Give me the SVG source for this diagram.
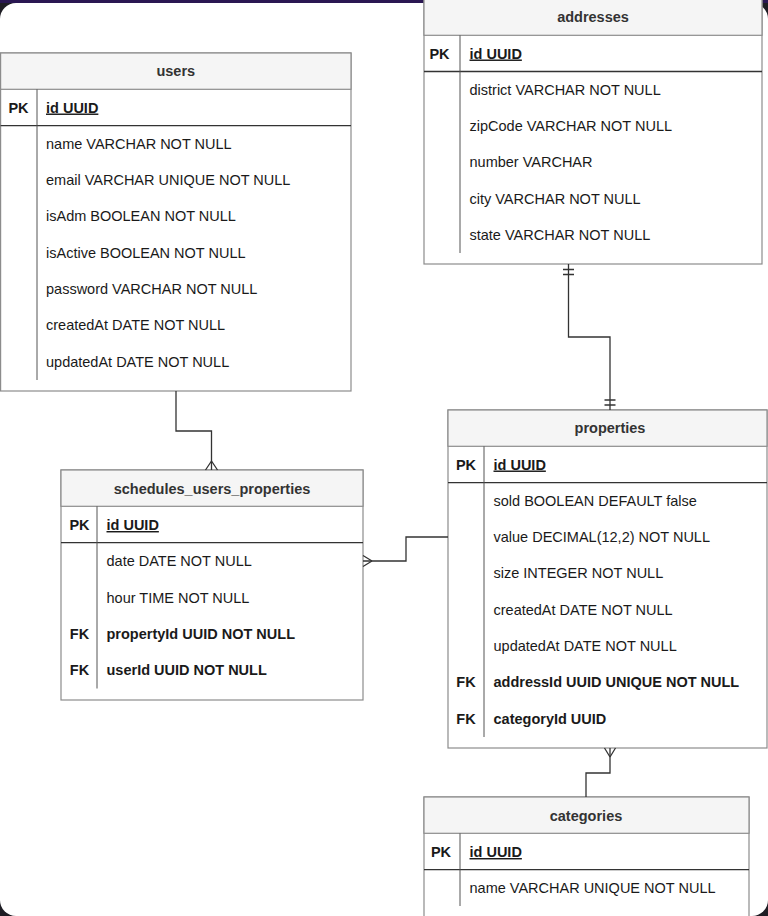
<svg xmlns="http://www.w3.org/2000/svg" width="768" height="916" viewBox="0 0 768 916">
<style>
.box{fill:#ffffff;stroke:#8c8c8c;stroke-width:1.2}
.hdr{fill:#f5f5f5;stroke:#8c8c8c;stroke-width:1.2}
.sep{stroke:#333333;stroke-width:1.4}
.div{stroke:#555555;stroke-width:1}
.t{font-family:"Liberation Sans",Arial,sans-serif;font-size:14.5px;fill:#1a1a1a}
.h{font-family:"Liberation Sans",Arial,sans-serif;font-size:14.5px;font-weight:bold;fill:#333333}
.b{font-weight:bold}
.u{font-weight:bold;text-decoration:underline}
.k{font-weight:bold;text-anchor:middle}
.c{fill:none;stroke:#333333;stroke-width:1.3}
</style>
<rect x="0" y="0" width="768" height="916" fill="#1e1d24"/>
<rect x="0" y="0" width="768" height="3" fill="#2a1752"/>
<rect x="0" y="3" width="768" height="913" rx="16" ry="16" fill="#ffffff"/>

<g id="users">
<rect class="box" x="0.6" y="53" width="350.4" height="338"/>
<rect class="hdr" x="0.6" y="53" width="350.4" height="36.3"/>
<line class="sep" x1="0.6" y1="125.6" x2="351" y2="125.6"/>
<line class="div" x1="37" y1="89.3" x2="37" y2="125.6"/>
<line class="div" x1="37" y1="125.6" x2="37" y2="380"/>
<text class="h" x="175.8" y="76" text-anchor="middle">users</text>
<text class="t k" x="18.5" y="112.5">PK</text>
<text class="t u" x="46" y="112.5">id UUID</text>
<text class="t" x="46" y="148.8">name VARCHAR NOT NULL</text>
<text class="t" x="46" y="185.1">email VARCHAR UNIQUE NOT NULL</text>
<text class="t" x="46" y="221.4">isAdm BOOLEAN NOT NULL</text>
<text class="t" x="46" y="257.7">isActive BOOLEAN NOT NULL</text>
<text class="t" x="46" y="294">password VARCHAR NOT NULL</text>
<text class="t" x="46" y="330.3">createdAt DATE NOT NULL</text>
<text class="t" x="46" y="366.6">updatedAt DATE NOT NULL</text>
</g>

<g id="addresses">
<rect class="box" x="424" y="-1" width="338" height="265"/>
<rect class="hdr" x="424" y="-1" width="338" height="36.3"/>
<line class="sep" x1="424" y1="71.5" x2="762" y2="71.5"/>
<line class="div" x1="460" y1="35.3" x2="460" y2="71.5"/>
<line class="div" x1="460" y1="71.5" x2="460" y2="253"/>
<text class="h" x="593" y="22" text-anchor="middle">addresses</text>
<text class="t k" x="439.5" y="58.5">PK</text>
<text class="t u" x="469.5" y="58.5">id UUID</text>
<text class="t" x="469.5" y="94.8">district VARCHAR NOT NULL</text>
<text class="t" x="469.5" y="131.1">zipCode VARCHAR NOT NULL</text>
<text class="t" x="469.5" y="167.4">number VARCHAR</text>
<text class="t" x="469.5" y="203.7">city VARCHAR NOT NULL</text>
<text class="t" x="469.5" y="240">state VARCHAR NOT NULL</text>
</g>

<g id="properties">
<rect class="box" x="448" y="410" width="319" height="338"/>
<rect class="hdr" x="448" y="410" width="319" height="36.3"/>
<line class="sep" x1="448" y1="482.6" x2="767" y2="482.6"/>
<line class="div" x1="484" y1="446.3" x2="484" y2="482.6"/>
<line class="div" x1="484" y1="482.6" x2="484" y2="737"/>
<text class="h" x="610" y="433" text-anchor="middle">properties</text>
<text class="t k" x="466" y="469.5">PK</text>
<text class="t u" x="493.5" y="469.5">id UUID</text>
<text class="t" x="493.5" y="505.8">sold BOOLEAN DEFAULT false</text>
<text class="t" x="493.5" y="542.1">value DECIMAL(12,2) NOT NULL</text>
<text class="t" x="493.5" y="578.4">size INTEGER NOT NULL</text>
<text class="t" x="493.5" y="614.7">createdAt DATE NOT NULL</text>
<text class="t" x="493.5" y="651">updatedAt DATE NOT NULL</text>
<text class="t k" x="466" y="687.3">FK</text>
<text class="t b" x="493.5" y="687.3">addressId UUID UNIQUE NOT NULL</text>
<text class="t k" x="466" y="723.6">FK</text>
<text class="t b" x="493.5" y="723.6">categoryId UUID</text>
</g>

<g id="schedules_users_properties">
<rect class="box" x="61" y="470" width="302" height="230"/>
<rect class="hdr" x="61" y="470" width="302" height="36.3"/>
<line class="sep" x1="61" y1="542.6" x2="363" y2="542.6"/>
<line class="div" x1="97" y1="506.3" x2="97" y2="542.6"/>
<line class="div" x1="97" y1="542.6" x2="97" y2="688.5"/>
<text class="h" x="212" y="494" text-anchor="middle">schedules_users_properties</text>
<text class="t k" x="79.5" y="530">PK</text>
<text class="t u" x="106.5" y="530">id UUID</text>
<text class="t" x="106.5" y="566.3">date DATE NOT NULL</text>
<text class="t" x="106.5" y="602.6">hour TIME NOT NULL</text>
<text class="t k" x="79.5" y="638.9">FK</text>
<text class="t b" x="106.5" y="638.9">propertyId UUID NOT NULL</text>
<text class="t k" x="79.5" y="675.2">FK</text>
<text class="t b" x="106.5" y="675.2">userId UUID NOT NULL</text>
</g>

<g id="categories">
<rect class="box" x="424" y="797" width="325" height="130"/>
<rect class="hdr" x="424" y="797" width="325" height="36.3"/>
<line class="sep" x1="424" y1="869.6" x2="749" y2="869.6"/>
<line class="div" x1="460" y1="833.3" x2="460" y2="869.6"/>
<line class="div" x1="460" y1="869.6" x2="460" y2="906"/>
<text class="h" x="586" y="820.5" text-anchor="middle">categories</text>
<text class="t k" x="441" y="857">PK</text>
<text class="t u" x="469.5" y="857">id UUID</text>
<text class="t" x="469.5" y="893.3">name VARCHAR UNIQUE NOT NULL</text>
</g>

<g id="connectors">
<path class="c" d="M176,391 V431 H211.5 V470"/>
<path class="c" d="M211.5,461 L205.5,470 M211.5,461 L217.5,470"/>
<path class="c" d="M363,561 H406 V537 H448"/>
<path class="c" d="M372,561 L363,555.5 M372,561 L363,566.5"/>
<path class="c" d="M568.5,264 V337 H610 V410"/>
<path class="c" d="M563,269.5 H574 M563,274.5 H574"/>
<path class="c" d="M604.5,400 H615.5 M604.5,405 H615.5"/>
<path class="c" d="M610,748 V773 H586 V797"/>
<path class="c" d="M610,757 L604.5,748 M610,757 L615.5,748"/>
</g>
</svg>
